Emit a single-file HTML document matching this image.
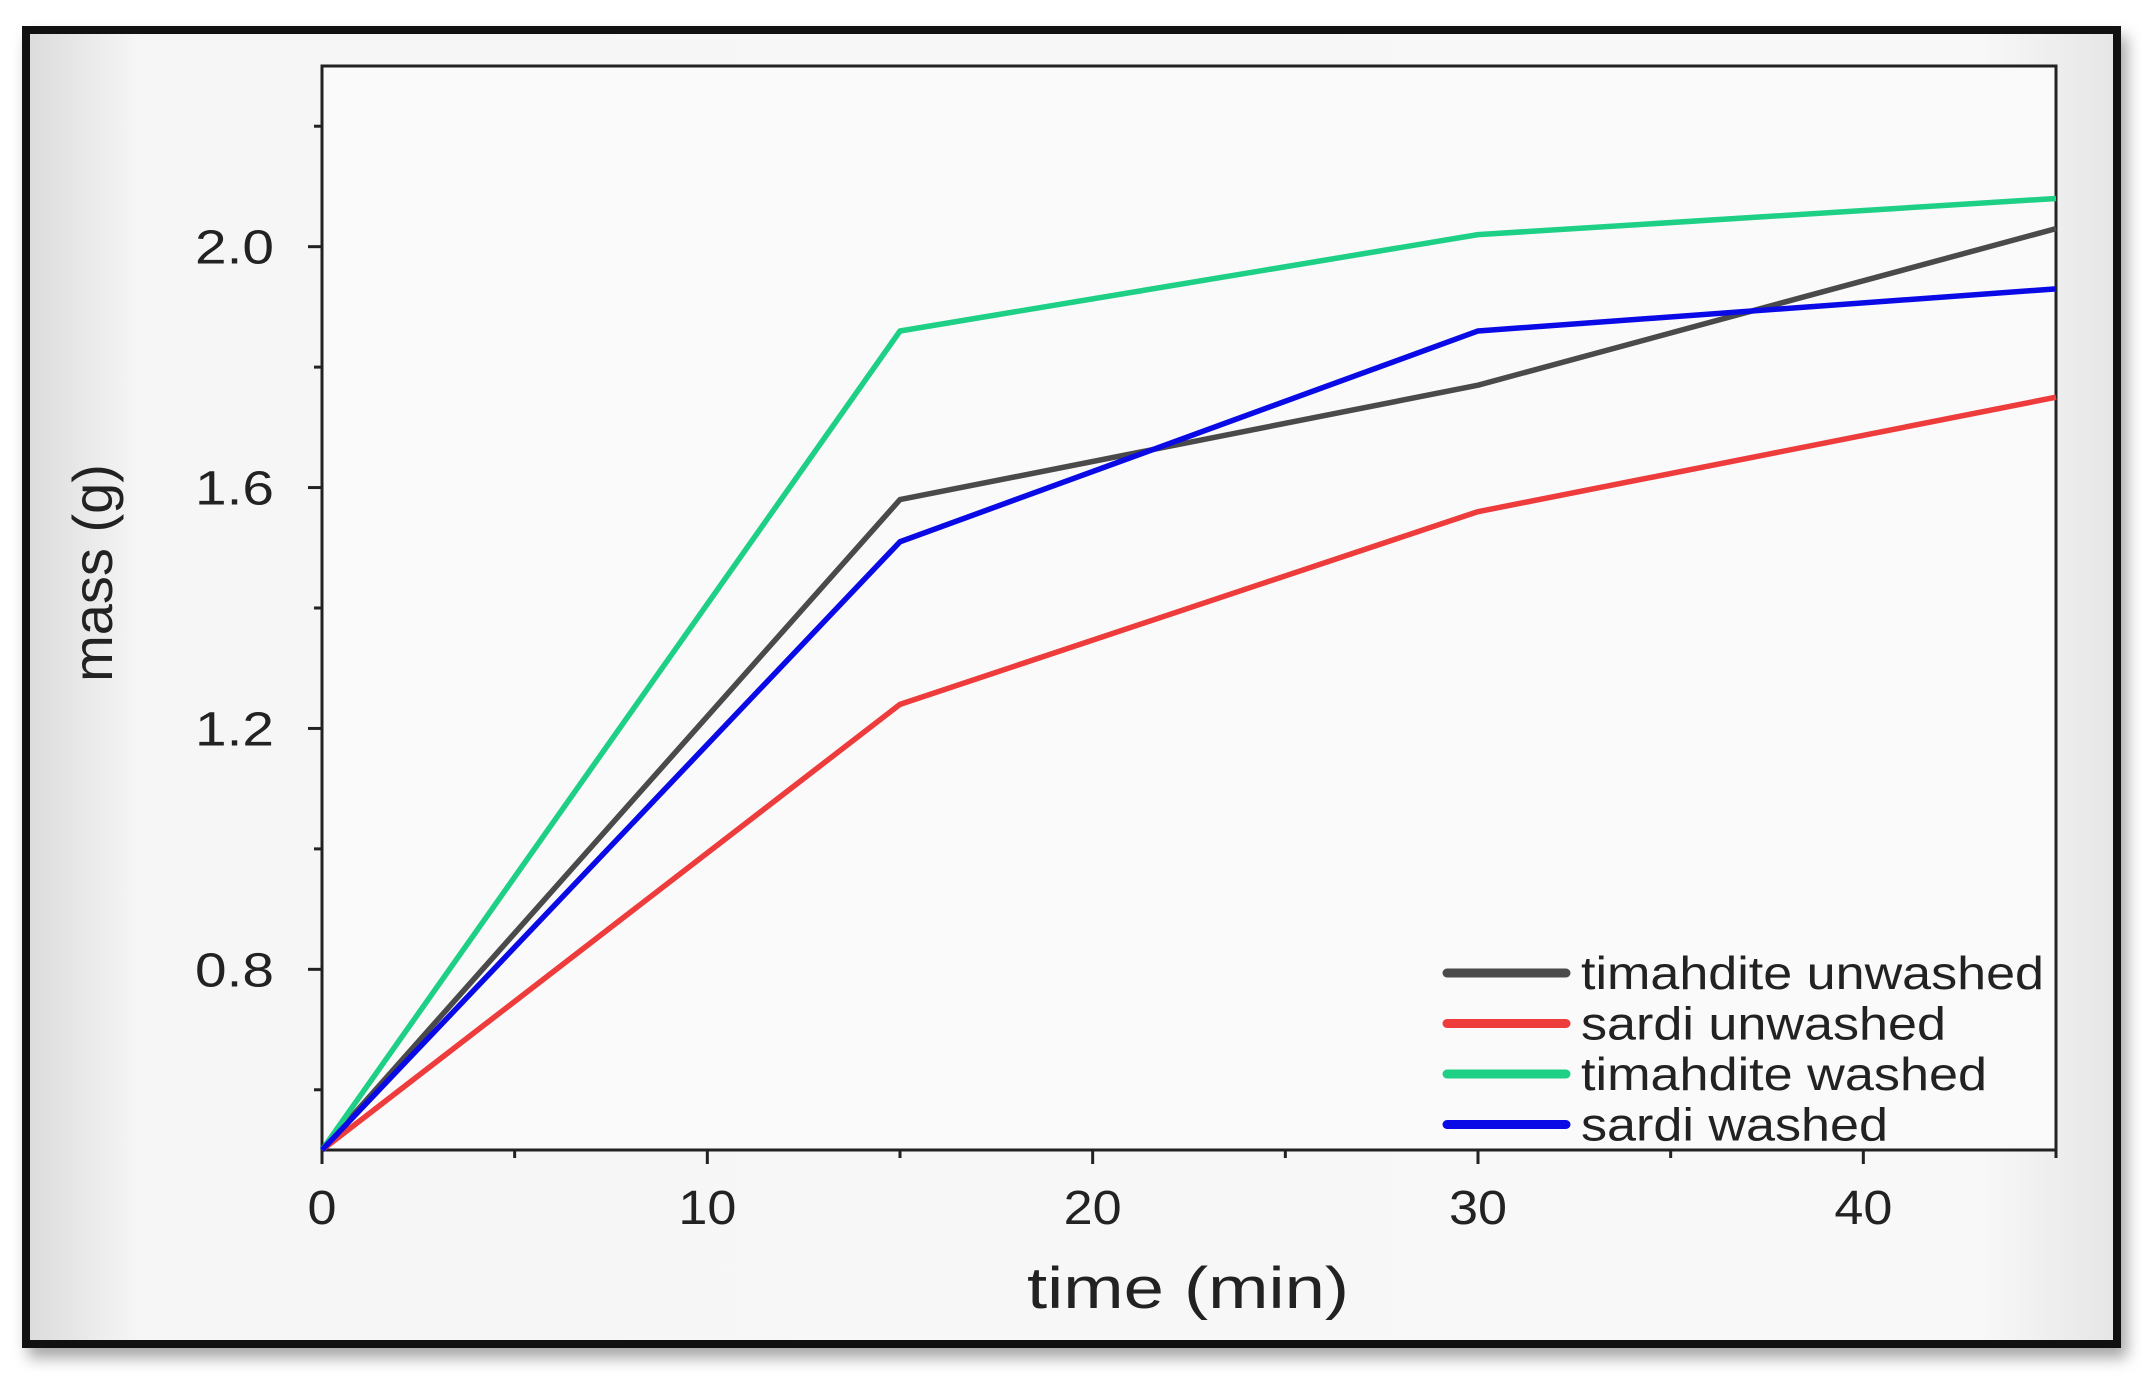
<!DOCTYPE html>
<html><head><meta charset="utf-8"><style>
html,body{margin:0;padding:0;background:#fff;}
body{width:2142px;height:1384px;overflow:hidden;position:relative;font-family:"Liberation Sans",sans-serif;}
#frame{position:absolute;left:22px;top:26px;width:2083px;height:1306px;border:8px solid #111;background:linear-gradient(90deg,#dcdcdc 0px,#f6f6f6 110px,#f8f8f8 1950px,#e6e6e6 2083px);box-shadow:6px 10px 14px rgba(0,0,0,0.35);}
</style></head><body>
<div id="frame"></div>
<svg id="chart" width="2142" height="1384" style="position:absolute;left:0;top:0" xmlns="http://www.w3.org/2000/svg"></svg>
<script>
const times=[0,15,30,45];
const timahditeUnwashed=[0.5,1.58,1.77,2.03];
const sardiUnwashed=[0.5,1.24,1.56,1.75];
const timahditeWashed=[0.5,1.86,2.02,2.08];
const sardiWashed=[0.5,1.51,1.86,1.93];
const seriesNames=["timahdite unwashed","sardi unwashed","timahdite washed","sardi washed"];
const xTicks=[0,10,20,30,40];
const yTicks=[0.8,1.2,1.6,2.0];
const yMinorTicks=[0.6,1.0,1.4,1.8,2.2];
const xMinorTicks=[5,15,25,35,45];

const L=322,R=2056,T=66,B=1150,X0=0,X1=45,Y0=0.5,Y1=2.3;
const xs=v=>L+(v-X0)/(X1-X0)*(R-L);
const ys=v=>B-(v-Y0)/(Y1-Y0)*(B-T);
const NS="http://www.w3.org/2000/svg";
const svg=document.getElementById('chart');
function mk(tag,attrs,parent){const e=document.createElementNS(NS,tag);for(const k in attrs)e.setAttribute(k,attrs[k]);(parent||svg).appendChild(e);return e;}
const cw=29; // approx char width for tick digits

const bg=mk('rect',{x:L,y:T,width:R-L,height:B-T,fill:'#fafafa',stroke:'#222','stroke-width':3});



const xg=mk('g',{});


xTicks.forEach(v=>{
  const t=mk('line',{x1:xs(v),x2:xs(v),y1:B,y2:B+14,stroke:'#222','stroke-width':3},xg);
  
  
  const s=String(v);
  const tx=mk('text',{x:xs(v),y:1224,'text-anchor':'middle','font-size':48,fill:'#222',textLength:s.length*cw,lengthAdjust:'spacingAndGlyphs'},xg);
  tx.textContent=s;
  
  
});
xMinorTicks.forEach(v=>{
  const t=mk('line',{x1:xs(v),x2:xs(v),y1:B,y2:B+8,stroke:'#222','stroke-width':3},xg);
  
  
});
const yg=mk('g',{});


yTicks.forEach(v=>{
  const t=mk('line',{x1:L-14,x2:L,y1:ys(v),y2:ys(v),stroke:'#222','stroke-width':3},yg);
  
  
  const tx=mk('text',{x:274,y:ys(v)+17,'text-anchor':'end','font-size':48,fill:'#222',textLength:79,lengthAdjust:'spacingAndGlyphs'},yg);
  tx.textContent=v.toFixed(1);
  
  
});
yMinorTicks.forEach(v=>{
  const t=mk('line',{x1:L-8,x2:L,y1:ys(v),y2:ys(v),stroke:'#222','stroke-width':3},yg);
  
  
});
const xt=mk('text',{x:1188,y:1308,'text-anchor':'middle','font-size':58,fill:'#222',textLength:322,lengthAdjust:'spacingAndGlyphs'});
xt.textContent='time (min)';


const yt=mk('text',{x:0,y:0,'text-anchor':'middle','font-size':56,fill:'#222',transform:'translate(112,573) rotate(-90)'});
yt.textContent='mass (g)';



const allSeries=[timahditeUnwashed,sardiUnwashed,timahditeWashed,sardiWashed];
const colors=['#4a4a4a','#ee3b3b','#1ecf86','#0a0ae6'];
allSeries.forEach((s,i)=>{
  const p=mk('polyline',{points:s.map((v,j)=>xs(times[j])+','+ys(v)).join(' '),fill:'none',stroke:colors[i],'stroke-width':5.5,'stroke-linejoin':'round'});
  
  
});
const legendWidths=[463,365,406,307];
const lg=mk('g',{});


seriesNames.forEach((n,i)=>{
  const y=973+i*50.5;
  const ln=mk('line',{x1:1447,x2:1566,y1:y,y2:y,stroke:colors[i],'stroke-width':9,'stroke-linecap':'round'},lg);
  
  
  const tx=mk('text',{x:1581,y:y+16,'font-size':46,fill:'#222',textLength:legendWidths[i],lengthAdjust:'spacingAndGlyphs'},lg);
  tx.textContent=n;
  
  
});
</script>
</body></html>
